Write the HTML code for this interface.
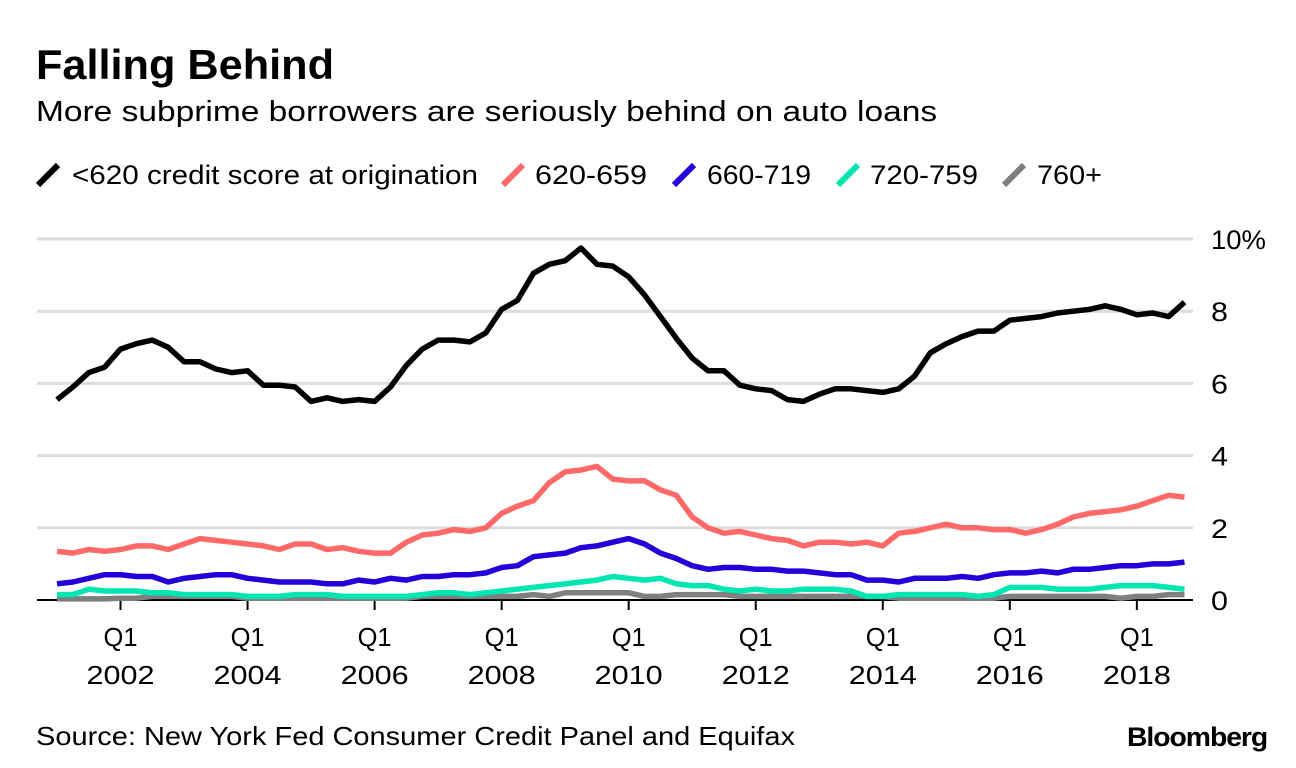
<!DOCTYPE html>
<html><head><meta charset="utf-8"><style>
body{margin:0;background:#fff;font-family:"Liberation Sans",sans-serif;}
#wrap{position:relative;width:1296px;height:768px;overflow:hidden;}
.t{position:absolute;white-space:nowrap;color:#000;transform-origin:0 0;}
</style></head><body><div id="wrap">
<div class="t" style="left:36px;top:41px;font-size:42px;font-weight:bold;transform:scaleX(1.03)">Falling Behind</div>
<div class="t" style="left:36px;top:96px;font-size:29px;transform:scaleX(1.155)">More subprime borrowers are seriously behind on auto loans</div>
<div class="t" style="left:36px;top:721px;font-size:26px;transform:scaleX(1.115)">Source: New York Fed Consumer Credit Panel and Equifax</div>
<div class="t" style="left:1127px;top:722px;font-size:27px;font-weight:bold;letter-spacing:-1px;transform:scaleX(1.05)">Bloomberg</div>
<svg id="chart" width="1296" height="768" style="position:absolute;left:0;top:0"></svg>
</div>
<script>
const years=["2002","2004","2006","2008","2010","2012","2014","2016","2018"];
const yTicks=[0,2,4,6,8,10];
const seriesNames=["<620 credit score at origination","620-659","660-719","720-759","760+"];
const sub620=[5.55,5.9,6.3,6.45,6.95,7.1,7.2,7.0,6.6,6.6,6.4,6.3,6.35,5.95,5.95,5.9,5.5,5.6,5.5,5.55,5.5,5.9,6.5,6.95,7.2,7.2,7.15,7.4,8.05,8.3,9.05,9.3,9.4,9.75,9.3,9.25,8.95,8.45,7.85,7.25,6.7,6.35,6.35,5.95,5.85,5.8,5.55,5.5,5.7,5.85,5.85,5.8,5.75,5.85,6.2,6.85,7.1,7.3,7.45,7.45,7.75,7.8,7.85,7.95,8.0,8.05,8.15,8.05,7.9,7.95,7.85,8.25];
const s620=[1.35,1.3,1.4,1.35,1.4,1.5,1.5,1.4,1.55,1.7,1.65,1.6,1.55,1.5,1.4,1.55,1.55,1.4,1.45,1.35,1.3,1.3,1.6,1.8,1.85,1.95,1.9,2.0,2.4,2.6,2.75,3.25,3.55,3.6,3.7,3.35,3.3,3.3,3.05,2.9,2.3,2.0,1.85,1.9,1.8,1.7,1.65,1.5,1.6,1.6,1.55,1.6,1.5,1.85,1.9,2.0,2.1,2.0,2.0,1.95,1.95,1.85,1.95,2.1,2.3,2.4,2.45,2.5,2.6,2.75,2.9,2.85];
const s660=[0.45,0.5,0.6,0.7,0.7,0.65,0.65,0.5,0.6,0.65,0.7,0.7,0.6,0.55,0.5,0.5,0.5,0.45,0.45,0.55,0.5,0.6,0.55,0.65,0.65,0.7,0.7,0.75,0.9,0.95,1.2,1.25,1.3,1.45,1.5,1.6,1.7,1.55,1.3,1.15,0.95,0.85,0.9,0.9,0.85,0.85,0.8,0.8,0.75,0.7,0.7,0.55,0.55,0.5,0.6,0.6,0.6,0.65,0.6,0.7,0.75,0.75,0.8,0.75,0.85,0.85,0.9,0.95,0.95,1.0,1.0,1.05];
const s720=[0.15,0.15,0.3,0.25,0.25,0.25,0.2,0.2,0.15,0.15,0.15,0.15,0.1,0.1,0.1,0.15,0.15,0.15,0.1,0.1,0.1,0.1,0.1,0.15,0.2,0.2,0.15,0.2,0.25,0.3,0.35,0.4,0.45,0.5,0.55,0.65,0.6,0.55,0.6,0.45,0.4,0.4,0.3,0.25,0.3,0.25,0.25,0.3,0.3,0.3,0.25,0.1,0.1,0.15,0.15,0.15,0.15,0.15,0.1,0.15,0.35,0.35,0.35,0.3,0.3,0.3,0.35,0.4,0.4,0.4,0.35,0.3];
const s760=[0.03,0.03,0.03,0.03,0.05,0.05,0.1,0.1,0.1,0.1,0.1,0.1,0.05,0.05,0.05,0.05,0.05,0.05,0.05,0.05,0.05,0.05,0.05,0.1,0.1,0.1,0.1,0.1,0.1,0.1,0.15,0.1,0.2,0.2,0.2,0.2,0.2,0.1,0.1,0.15,0.15,0.15,0.15,0.1,0.1,0.1,0.1,0.1,0.1,0.1,0.1,0.1,0.1,0.05,0.05,0.05,0.05,0.05,0.05,0.05,0.1,0.1,0.1,0.1,0.1,0.1,0.1,0.05,0.1,0.1,0.15,0.15];
const colors=["#000000","#ff6969","#2200d9","#00e6b0","#7f7f7f"];
const allSeries=[sub620,s620,s660,s720,s760];

const svg=document.getElementById('chart');
const NS='http://www.w3.org/2000/svg';
const x0=57,dx=(1184.5-57)/71,yZero=600,yTop=239;
function xScale(i){return x0+i*dx;}
function yScale(v){return yZero-(yZero-yTop)*v/10;}
function mk(tag,attrs){const e=document.createElementNS(NS,tag);for(const k in attrs)e.setAttribute(k,attrs[k]);svg.appendChild(e);return e;}
const F='Liberation Sans, sans-serif';

yTicks.forEach((v,k)=>{
  if(v>0){const g=mk('line',{x1:37,x2:1193,y1:yScale(v),y2:yScale(v),stroke:'#dcdcdc','stroke-width':3});
  
  }
  const lbl=v===10?'10%':String(v);
  const t=mk('text',{x:1211,y:yScale(v)+10,'font-size':27,'font-family':F,textLength:v===10?55:17,lengthAdjust:'spacingAndGlyphs'});
  t.textContent=lbl;
  
  
});
const ax=mk('line',{x1:37,x2:1193,y1:yZero,y2:yZero,stroke:'#000','stroke-width':2});


years.forEach((y,k)=>{
  const i=4+k*8,x=xScale(i);
  const tk=mk('line',{x1:x,x2:x,y1:yZero,y2:yZero+10,stroke:'#000','stroke-width':2});
  
  
  const q=mk('text',{x:x-17,y:646,'font-size':26,'font-family':F,textLength:34,lengthAdjust:'spacingAndGlyphs'});
  q.textContent='Q1';
  
  
  const t=mk('text',{x:x-34,y:684,'font-size':26,'font-family':F,textLength:68,lengthAdjust:'spacingAndGlyphs'});
  t.textContent=y;
  
  
});
for(let s=allSeries.length-1;s>=0;s--){
  const d=allSeries[s].map((v,i)=>(i?'L':'M')+xScale(i).toFixed(1)+','+yScale(v).toFixed(1)).join('');
  const p=mk('path',{d:d,fill:'none',stroke:colors[s],'stroke-width':5.5,'stroke-linejoin':'round'});
  
  
}
const legX=[38,503,674,838,1004];
const legTextX=[72,535,707,870,1037];
const legW=[406,112,104,108,65];
seriesNames.forEach((n,s)=>{
  const m=mk('line',{x1:legX[s],x2:legX[s]+20,y1:185,y2:165,stroke:colors[s],'stroke-width':6});
  
  
  const t=mk('text',{x:legTextX[s],y:184,'font-size':27,'font-family':F,textLength:legW[s],lengthAdjust:'spacingAndGlyphs'});
  t.textContent=n;
  
  
});
</script></body></html>
